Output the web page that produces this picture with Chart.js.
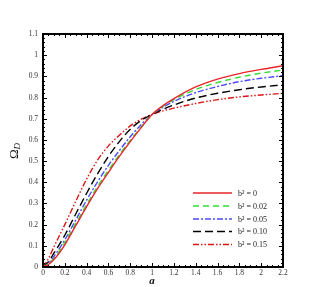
<!DOCTYPE html>
<html>
<head>
<meta charset="utf-8">
<script src="https://cdn.jsdelivr.net/npm/chart.js@4/dist/chart.umd.min.js"></script>
<style>
html,body{margin:0;padding:0;background:#fff;}
#wrap{width:322px;height:287px;position:relative;}
</style>
</head>
<body>
<div id="wrap"><canvas id="c" width="322" height="287"></canvas></div>
<script>
const aValues = [0,0.05,0.1,0.2,0.3,0.4,0.5,0.6,0.7,0.8,0.9,1.0,1.1,1.2,1.4,1.6,1.8,2.0,2.2];
const omegaB0   = [0,0.012,0.035,0.105,0.195,0.285,0.37,0.447,0.522,0.592,0.658,0.72,0.762,0.795,0.85,0.887,0.913,0.933,0.95];
const omegaB002 = [0,0.014,0.04,0.115,0.205,0.295,0.38,0.457,0.53,0.598,0.661,0.72,0.759,0.79,0.838,0.871,0.896,0.915,0.93];
const omegaB005 = [0,0.018,0.05,0.128,0.222,0.316,0.402,0.48,0.55,0.615,0.672,0.72,0.754,0.782,0.823,0.852,0.875,0.891,0.903];
const omegaB010 = [0,0.025,0.065,0.15,0.25,0.348,0.44,0.522,0.592,0.65,0.692,0.72,0.745,0.765,0.798,0.82,0.837,0.85,0.86];
const omegaB015 = [0,0.04,0.095,0.2,0.31,0.415,0.505,0.572,0.622,0.666,0.698,0.72,0.737,0.75,0.772,0.79,0.803,0.812,0.82];
const seriesLabels = ['b\u00B2 = 0','b\u00B2 = 0.02','b\u00B2 = 0.05','b\u00B2 = 0.10','b\u00B2 = 0.15'];
const xTicks = [0,0.2,0.4,0.6,0.8,1,1.2,1.4,1.6,1.8,2,2.2];
const yTicks = [0,0.1,0.2,0.3,0.4,0.5,0.6,0.7,0.8,0.9,1,1.1];

const styles = [
  {color:'#e8262a', dash:[]},
  {color:'#33dd33', dash:[6,4]},
  {color:'#4a4aff', dash:[6,2,2,2]},
  {color:'#000000', dash:[8,4]},
  {color:'#dd1515', dash:[6,2,1.5,2,1.5,2]}
];
const seriesData = [omegaB0, omegaB002, omegaB005, omegaB010, omegaB015];

const datasets = seriesData.map((arr,i)=>({
  label: seriesLabels[i],
  data: arr.map((v,j)=>({x:aValues[j], y:v})),
  borderColor: styles[i].color,
  borderDash: styles[i].dash,
  borderWidth: 1.4,
  pointRadius: 0,
  fill: false,
  cubicInterpolationMode: 'monotone'
}));

const SERIF = '"Liberation Serif","DejaVu Serif",serif';

const framePlugin = {
  id: 'frame',
  afterDraw(chart){
    const ctx = chart.ctx;
    const a = chart.chartArea;
    const xs = chart.scales.x, ys = chart.scales.y;
    ctx.save();
    ctx.strokeStyle = '#000';
    ctx.lineWidth = 1;
    ctx.setLineDash([]);
    for (let k=0;k<=44;k++){
      const v = k*0.05;
      const px = Math.round(xs.getPixelForValue(v))+0.5;
      const len = (k%4===0)?4:2;
      ctx.beginPath();
      ctx.moveTo(px,a.bottom); ctx.lineTo(px,a.bottom-len);
      ctx.moveTo(px,a.top); ctx.lineTo(px,a.top+len);
      ctx.stroke();
    }
    for (let k=0;k<=55;k++){
      const v = k*0.02;
      const py = Math.round(ys.getPixelForValue(v))+0.5;
      const len = (k%5===0)?4:2;
      ctx.beginPath();
      ctx.moveTo(a.left,py); ctx.lineTo(a.left+len,py);
      ctx.moveTo(a.right,py); ctx.lineTo(a.right-len,py);
      ctx.stroke();
    }
    ctx.lineWidth = 2;
    ctx.strokeRect(a.left, a.top, a.right-a.left, a.bottom-a.top);

    const rows = [193,206,219,231.5,244.5];
    chart.data.datasets.forEach((ds,i)=>{
      const y = rows[i];
      ctx.beginPath();
      ctx.strokeStyle = ds.borderColor;
      ctx.lineWidth = 1.4;
      ctx.setLineDash(ds.borderDash);
      ctx.moveTo(193,y); ctx.lineTo(232,y);
      ctx.stroke();
      ctx.setLineDash([]);
      ctx.fillStyle = '#222';
      ctx.font = '8px '+SERIF;
      ctx.textBaseline = 'middle';
      ctx.textAlign = 'left';
      ctx.fillText(ds.label, 238, y+0.5);
    });

    ctx.fillStyle = '#111';
    ctx.font = 'italic bold 11px '+SERIF;
    ctx.textAlign = 'center';
    ctx.textBaseline = 'middle';
    ctx.fillText('a', xs.getPixelForValue(1), 281);

    ctx.save();
    ctx.translate(15, 151);
    ctx.rotate(-Math.PI/2);
    ctx.font = '13px '+SERIF;
    ctx.textAlign = 'left';
    ctx.textBaseline = 'middle';
    const w = ctx.measureText('\u03A9').width;
    ctx.font = 'italic 9px '+SERIF;
    const wd = ctx.measureText('D').width;
    const start = -(w+wd)/2;
    ctx.font = '13px '+SERIF;
    ctx.fillText('\u03A9', start, 0);
    ctx.font = 'italic 9px '+SERIF;
    ctx.fillText('D', start+w, 3);
    ctx.restore();
    ctx.restore();
  }
};

new Chart(document.getElementById('c'), {
  type: 'line',
  data: { datasets },
  options: {
    responsive: false,
    animation: false,
    layout: { padding: { top: 34, right: 39, left: 0, bottom: 0 } },
    plugins: { legend: { display: false }, tooltip: { enabled: false } },
    scales: {
      x: {
        type: 'linear', min: 0, max: 2.2,
        grid: { display: false, drawTicks: false },
        border: { display: false },
        afterBuildTicks: s => { s.ticks = xTicks.map(v=>({value:v})); },
        afterFit: s => { s.height = 20; },
        ticks: {
          padding: 2, color: '#333', maxRotation: 0, autoSkip: false,
          font: { family: SERIF, size: 7.5 },
          callback: v => String(Number(v.toFixed(1)))
        }
      },
      y: {
        type: 'linear', min: 0, max: 1.1,
        grid: { display: false, drawTicks: false },
        border: { display: false },
        afterBuildTicks: s => { s.ticks = yTicks.map(v=>({value:v})); },
        afterFit: s => { s.width = 43; },
        ticks: {
          padding: 5, color: '#333', autoSkip: false,
          font: { family: SERIF, size: 7.5 },
          callback: v => String(Number(v.toFixed(1)))
        }
      }
    }
  },
  plugins: [framePlugin]
});
</script>
</body>
</html>
